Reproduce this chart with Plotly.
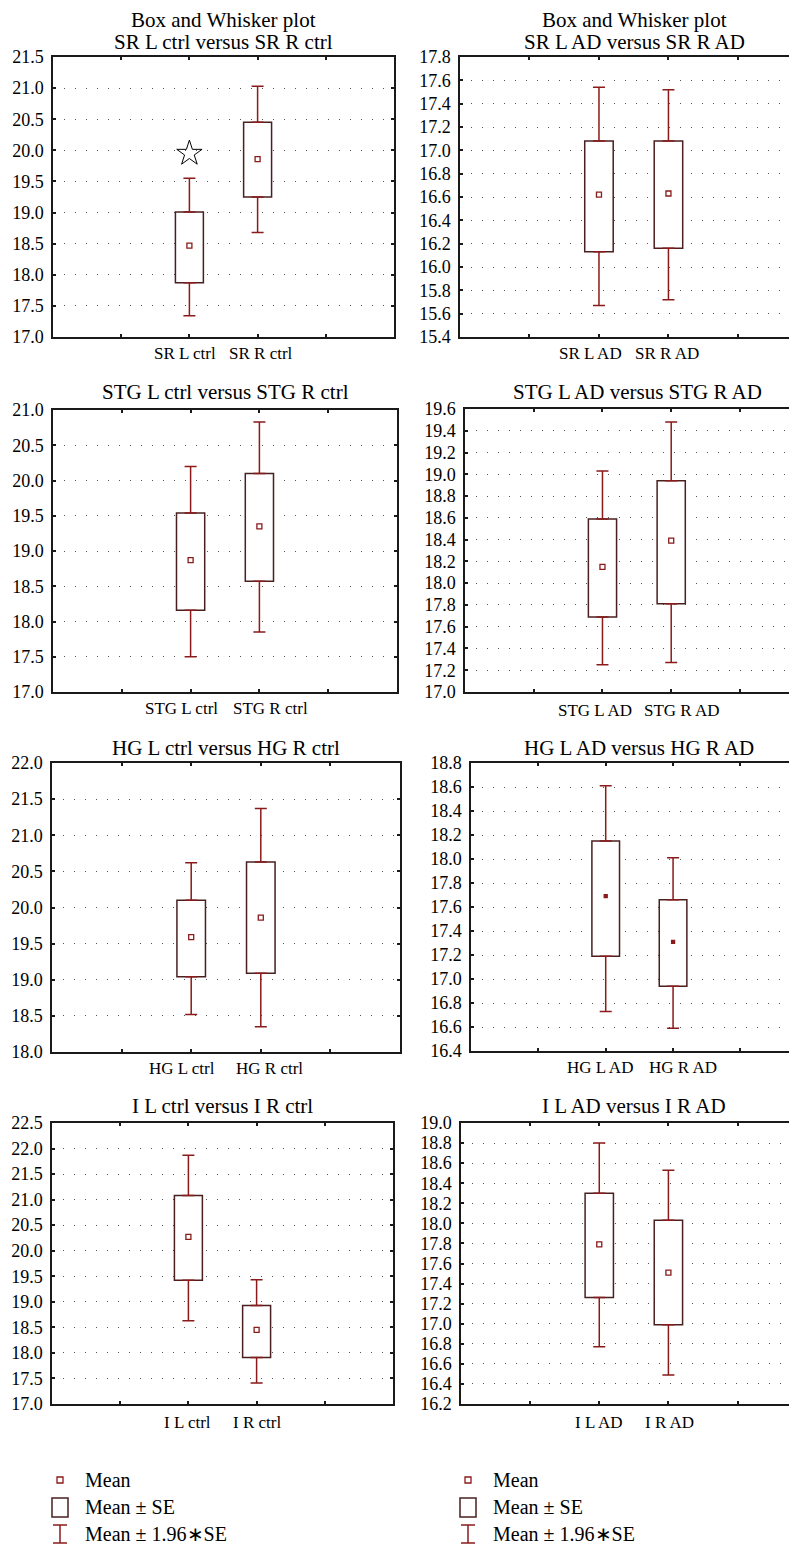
import plotly.graph_objects as go

# ---------------- data ----------------
titles = [
    "Box and Whisker plot<br>SR L ctrl versus SR R ctrl",
    "Box and Whisker plot<br>SR L AD versus SR R AD",
    "STG L ctrl versus STG R ctrl",
    "STG L AD versus STG R AD",
    "HG L ctrl versus HG R ctrl",
    "HG L AD versus HG R AD",
    "I L ctrl versus I R ctrl",
    "I L AD versus I R AD",
]
categories = [
    ["SR L ctrl", "SR R ctrl"],
    ["SR L AD", "SR R AD"],
    ["STG L ctrl", "STG R ctrl"],
    ["STG L AD", "STG R AD"],
    ["HG L ctrl", "HG R ctrl"],
    ["HG L AD", "HG R AD"],
    ["I L ctrl", "I R ctrl"],
    ["I L AD", "I R AD"],
]
means = [[18.47, 19.86], [16.62, 16.63], [18.87, 19.35], [18.15, 18.39],
         [19.59, 19.86], [17.69, 17.31], [20.27, 18.45], [17.79, 17.51]]
se_low = [[17.87, 19.25], [16.13, 16.16], [18.16, 18.57], [17.69, 17.81],
          [19.04, 19.09], [17.19, 16.94], [19.42, 17.91], [17.26, 16.99]]
se_high = [[19.01, 20.45], [17.08, 17.08], [19.54, 20.10], [18.59, 18.94],
           [20.10, 20.63], [18.15, 17.66], [21.08, 18.93], [18.30, 18.03]]
ci_low = [[17.34, 18.68], [15.67, 15.72], [17.50, 17.85], [17.25, 17.27],
          [18.52, 18.35], [16.73, 16.59], [18.63, 17.41], [16.77, 16.49]]
ci_high = [[19.55, 21.03], [17.54, 17.52], [20.20, 20.83], [19.03, 19.48],
           [20.62, 21.37], [18.61, 18.01], [21.87, 19.43], [18.80, 18.53]]
y_ranges = [[17.0, 21.5], [15.4, 17.8], [17.0, 21.0], [17.0, 19.6],
            [18.0, 22.0], [16.4, 18.8], [17.0, 22.5], [16.2, 19.0]]
y_steps = [0.5, 0.2, 0.5, 0.2, 0.5, 0.2, 0.5, 0.2]
star_panel = 0
star_category = 0
star_value = 19.95
legend_labels = ["Mean", "Mean ± SE", "Mean ± 1.96∗SE"]

# ---------------- layout constants (pixels) ----------------
W, H = 797, 1547
OFF = 8  # page body margin
# (x0, x1, y_top, y_bottom, x-range max)
boxes = [
    (53, 394, 57, 337, 5.0), (460, 797, 57, 337, 4.85),
    (53, 397, 410, 692, 5.0), (465, 797, 409, 692, 4.83),
    (52, 400, 763, 1052, 5.0), (471, 797, 763, 1051, 4.84),
    (52, 393, 1123, 1404, 5.0), (461, 797, 1123, 1404, 4.86),
]
# centre x, y of last title line
title_pos = [(223, 42), (634, 42), (225, 392), (637, 392),
             (226, 748), (639, 748), (222, 1106), (634, 1106)]
TITLE_LINE = 22
# horizontal nudges (px) of the category labels
label_shift = [(-4, 3), (-8, -1), (-9, 11), (-7, 11),
               (-9, 9), (-6, 10), (-1, 0), (0, 1)]
label_gap = [16, 16, 16, 18, 16, 16, 18, 18]
cat_pos = [2, 3]
FONT = "Liberation Serif"
WHISK = "#8b1a1a"
BOXC = "#4a1f1f"
AXC = "#1a1a1a"


def fx(px):
    return (px - OFF) / W


def fy(py):
    return 1 - (py - OFF) / H


fig = go.Figure()
layout = dict(
    template="none",
    width=W, height=H, margin=dict(l=0, r=0, t=0, b=0, pad=0, autoexpand=False),
    paper_bgcolor="white", plot_bgcolor="white", showlegend=False,
    font=dict(family=FONT, size=17, color="black"),
    barmode="overlay",
)
annotations = []
shapes = []

for i in range(8):
    ax = "" if i == 0 else str(i + 1)
    xa, ya = "x" + ax, "y" + ax
    x0, x1, yt, yb, xmax = boxes[i]
    lo = se_low[i]
    hi = se_high[i]
    fig.add_trace(go.Bar(
        x=cat_pos, base=lo, y=[h - l for h, l in zip(hi, lo)], width=0.41,
        marker=dict(color="white", line=dict(color=BOXC, width=1.5)),
        xaxis=xa, yaxis=ya, hoverinfo="skip"))
    fig.add_trace(go.Scatter(
        x=cat_pos, y=hi, mode="markers",
        marker=dict(size=1, color="rgba(0,0,0,0)"),
        error_y=dict(type="data", symmetric=False,
                     array=[c - h for c, h in zip(ci_high[i], hi)],
                     arrayminus=[0, 0], color=WHISK, thickness=1.5, width=6),
        xaxis=xa, yaxis=ya, hoverinfo="skip"))
    fig.add_trace(go.Scatter(
        x=cat_pos, y=lo, mode="markers",
        marker=dict(size=1, color="rgba(0,0,0,0)"),
        error_y=dict(type="data", symmetric=False,
                     array=[0, 0],
                     arrayminus=[l - c for l, c in zip(lo, ci_low[i])],
                     color=WHISK, thickness=1.5, width=6),
        xaxis=xa, yaxis=ya, hoverinfo="skip"))
    small = (i == 5)
    fig.add_trace(go.Scatter(
        x=cat_pos, y=means[i], mode="markers",
        marker=dict(symbol="square" if small else "square-open",
                    size=3 if small else 5, color=WHISK,
                    line=dict(color=WHISK, width=1.3)),
        xaxis=xa, yaxis=ya))
    if i == star_panel:
        fig.add_trace(go.Scatter(
            x=[cat_pos[star_category]], y=[star_value], mode="markers",
            marker=dict(symbol="star-open", size=19, color="black",
                        line=dict(color="black", width=1)),
            xaxis=xa, yaxis=ya))

    left = (i % 2 == 0)
    layout["xaxis" + ax] = dict(
        domain=[fx(x0), min(1.0, fx(x1))], anchor=ya, range=[0, xmax],
        tickvals=[1, 2, 3, 4], showticklabels=False,
        automargin=False,
        ticks="inside", ticklen=3, tickcolor=AXC, tickwidth=1.5,
        showline=True, linecolor=AXC, linewidth=1.5, mirror="ticks",
        showgrid=False, zeroline=False, fixedrange=True,
    )
    layout["yaxis" + ax] = dict(
        domain=[fy(yb), fy(yt)], anchor=xa, range=y_ranges[i],
        dtick=y_steps[i], tick0=y_ranges[i][0], tickformat=".1f",
        automargin=False,
        ticks="inside", ticklen=3, tickcolor=AXC, tickwidth=1.5,
        showline=True, linecolor=AXC, linewidth=1.5,
        mirror="ticks" if left else False,
        showgrid=True, gridcolor="#555555", gridwidth=1, griddash="1px,10px",
        zeroline=False, fixedrange=True, ticklabelstandoff=4,
        tickfont=dict(family=FONT, size=18, color="black"),
    )
    # category labels
    for k in range(2):
        annotations.append(dict(
            text=categories[i][k], x=cat_pos[k], xref=xa,
            y=0, yref=ya + " domain", yshift=-label_gap[i],
            xshift=label_shift[i][k], xanchor="center", yanchor="middle",
            showarrow=False, font=dict(family=FONT, size=17, color="black")))
    # titles (line by line)
    tx, ty = title_pos[i]
    lines = titles[i].split("<br>")
    for j, line in enumerate(lines):
        py = ty - TITLE_LINE * (len(lines) - 1 - j)
        annotations.append(dict(
            text=line, x=fx(tx), y=fy(py), xref="paper", yref="paper",
            xanchor="center", yanchor="middle", showarrow=False,
            font=dict(family=FONT, size=21, color="black")))

# ---------------- legends (bottom) ----------------
for lx, tx in [(60, 83), (468, 491)]:
    rows = [1480, 1507, 1534]
    # mean symbol
    shapes.append(dict(type="rect", xref="paper", yref="paper",
                       x0=fx(lx - 3), x1=fx(lx + 3), y0=fy(rows[0] + 3), y1=fy(rows[0] - 3),
                       line=dict(color=WHISK, width=1.3), fillcolor="white"))
    # box symbol
    shapes.append(dict(type="rect", xref="paper", yref="paper",
                       x0=fx(lx - 8), x1=fx(lx + 8), y0=fy(rows[1] + 10), y1=fy(rows[1] - 9),
                       line=dict(color=BOXC, width=1.5), fillcolor="white"))
    # whisker symbol
    for (a, b, c, d) in [(lx - 7, rows[2] - 9, lx + 7, rows[2] - 9),
                         (lx, rows[2] - 9, lx, rows[2] + 9),
                         (lx - 7, rows[2] + 9, lx + 7, rows[2] + 9)]:
        shapes.append(dict(type="line", xref="paper", yref="paper",
                           x0=fx(a), y0=fy(b), x1=fx(c), y1=fy(d),
                           line=dict(color=WHISK, width=1.5)))
    for r, lab in zip(rows, legend_labels):
        annotations.append(dict(
            text=lab, x=fx(tx), y=fy(r), xref="paper", yref="paper",
            xanchor="left", yanchor="middle", showarrow=False,
            font=dict(family=FONT, size=20, color="black")))

layout["annotations"] = annotations
layout["shapes"] = shapes
fig.update_layout(**layout)
fig.write_html("out.html")
